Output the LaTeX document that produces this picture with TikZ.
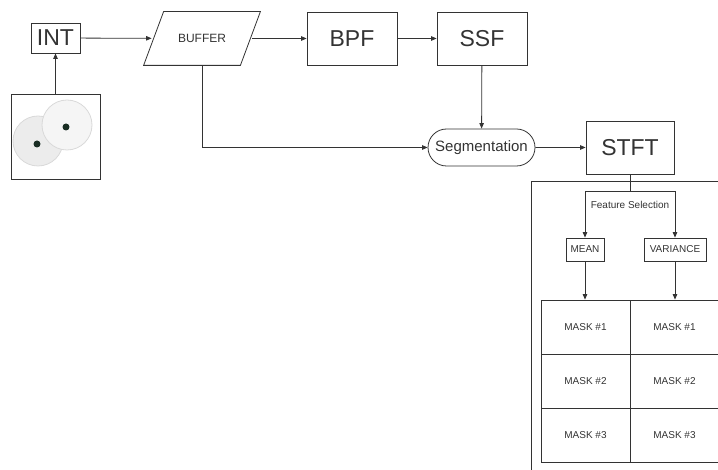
\documentclass[tikz,border=0pt]{standalone}
\usepackage{fontspec}
\setmainfont{Liberation Sans}
\usetikzlibrary{arrows.meta,shapes.misc}
\definecolor{pad}{RGB}{236,236,236}
\definecolor{snap}{RGB}{25,45,35}
\begin{document}
\begin{tikzpicture}[x=1pt,y=-1pt,line width=0.8pt,color=black!80,
	->/.style={-{Triangle[length=5.5pt,width=4.5pt]}},
	big/.style={draw,inner sep=0pt,font=\fontsize{23}{26}\selectfont},
	small/.style={draw,inner sep=0pt,font=\fontsize{10}{12}\selectfont},
	cell/.style={small,minimum width=89,minimum height=54}]
	\useasboundingbox (0,0) rectangle (718,470);
	\clip (0,0) rectangle (718,470);
	% Top row
	\node[big,minimum width=49,minimum height=30] (int) at (55.5,38) {INT};
	\node[minimum width=100,minimum height=53,inner sep=0pt,
		font=\fontsize{12}{14}\selectfont] (buffer) at (202,38.5) {BUFFER};
	\draw ([xshift=12]buffer.north west) -- ([xshift=8]buffer.north east)
		-- ([xshift=-12]buffer.south east) -- ([xshift=-8]buffer.south west) -- cycle;
	\node[big,minimum width=90,minimum height=53] (bpf) at (352,38.5) {BPF};
	\node[big,minimum width=90,minimum height=53] (ssf) at (482,38.5) {SSF};
	% Electrodes
	\node[draw,minimum width=89,minimum height=85,inner sep=0pt] (pads) at (55.5,136.5) {};
	\draw[fill=pad,draw=black!15] (38,141) circle (25);
	\draw[fill=pad!50,draw=black!15] (67,125) circle (25);
	\fill[snap] (37,144) circle (3.5);
	\fill[snap] (66,127) circle (3.5);
	% Middle row
	\node[draw,rounded rectangle,minimum width=107,minimum height=37,inner sep=0pt,
		font=\fontsize{15}{17}\selectfont] (seg) at (481.5,147.5) {Segmentation};
	\node[big,minimum width=88,minimum height=53] (stft) at (630,147.5) {STFT};
	% Feature box
	\draw (740,181) -| (531,490);
	\coordinate (fsel) at (630,191);
	\node[font=\fontsize{10}{12}\selectfont] (fslabel) at (630,205) {Feature Selection};
	\node[small,minimum width=38,minimum height=23] (mean) at (585,249.5) {MEAN};
	\node[small,minimum width=62,minimum height=23] (var) at (675,249.5) {VARIANCE};
	% Masks
	\foreach \r in {1,2,3}{
		\node[cell] (m\r) at (585.5,{273+54*\r}) {MASK \#\r};
		\node[cell] (v\r) at (674.5,{273+54*\r}) {MASK \#\r};
	}
	% Connectors
	\draw[->] (int) -- (buffer);
	\draw[->] (buffer) -- (bpf);
	\draw[->] (bpf) -- (ssf);
	\draw[->] (pads) -- (int);
	\draw[->] (ssf) -- (seg);
	\draw[->] (buffer.south) |- (seg);
	\draw[->] (seg) -- (stft);
	\draw (stft) -- (fsel);
	\draw[->] (fsel) -| (mean);
	\draw[->] (fsel) -| (var);
	\draw[->] (mean) -- (mean |- m1.north);
	\draw[->] (var) -- (var |- v1.north);
\end{tikzpicture}
\end{document}
